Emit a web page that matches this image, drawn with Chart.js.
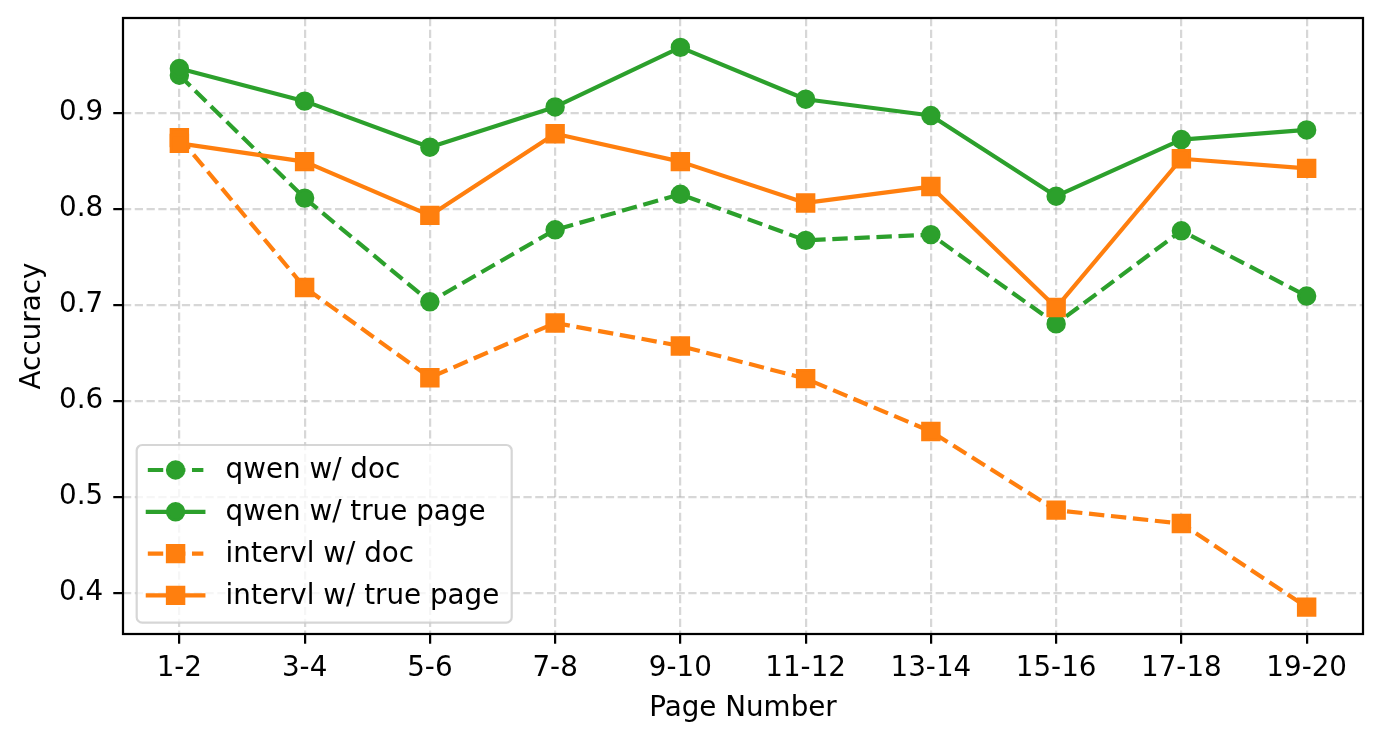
<!DOCTYPE html>
<html>
<head>
<meta charset="utf-8">
<script src="https://cdn.jsdelivr.net/npm/chart.js@4.4.0/dist/chart.umd.min.js"></script>
<style>
html,body{margin:0;padding:0;background:#fff;}
#wrap{width:1382px;height:742px;position:relative;}
canvas{display:block;}
</style>
</head>
<body>
<div id="wrap"><canvas id="c" width="1382" height="742"></canvas></div>
<script>
// ---- data ----
const categories = ['1-2','3-4','5-6','7-8','9-10','11-12','13-14','15-16','17-18','19-20'];
const qwenDoc     = [0.939,0.811,0.703,0.778,0.815,0.767,0.773,0.680,0.777,0.709];
const qwenTrue    = [0.946,0.912,0.864,0.906,0.968,0.914,0.897,0.813,0.872,0.882];
const intervlDoc  = [0.874,0.718,0.624,0.681,0.657,0.623,0.568,0.486,0.472,0.385];
const intervlTrue = [0.868,0.849,0.793,0.878,0.849,0.806,0.823,0.697,0.852,0.842];
const yTicks = [0.4,0.5,0.6,0.7,0.8,0.9];
const seriesNames = ['qwen w/ doc','qwen w/ true page','intervl w/ doc','intervl w/ true page'];
const xLabel = 'Page Number';
const yLabel = 'Accuracy';

// ---- style ----
const PT = 200/72;
const FONT = 'DejaVu Sans';
const FS = 10*PT;
const GREEN = '#2ca02c', ORANGE = '#ff7f0e';
const DASH = [3.7*1.5*PT, 1.6*1.5*PT];
const GRID_DASH = [3.7*0.8*PT, 1.6*0.8*PT];

function makeDs(label, values, color, dashed, marker, order){
  const r = marker === 'circle' ? 3*PT : 3*PT*Math.SQRT2;
  return {
    label,
    data: values.map((v,i)=>({x:i,y:v})),
    borderColor: color, backgroundColor: color,
    borderWidth: 1.5*PT,
    borderDash: dashed ? DASH : [],
    borderJoinStyle: 'round',
    borderCapStyle: 'butt',
    pointStyle: marker,
    pointRadius: r, pointHoverRadius: r,
    pointBorderWidth: PT, pointHoverBorderWidth: PT,
    pointBorderColor: color, pointBackgroundColor: color,
    tension: 0, fill: false, order,
    _dashed: dashed
  };
}

const datasets = [
  makeDs(seriesNames[0], qwenDoc, GREEN, true, 'circle', 4),
  makeDs(seriesNames[1], qwenTrue, GREEN, false, 'circle', 3),
  makeDs(seriesNames[2], intervlDoc, ORANGE, true, 'rect', 2),
  makeDs(seriesNames[3], intervlTrue, ORANGE, false, 'rect', 1)
];

const mplPlugin = {
  id: 'mpl',
  afterDatasetsDraw(chart){
    const {ctx, chartArea:a} = chart;
    ctx.save();
    ctx.strokeStyle = '#000';
    ctx.lineWidth = 0.8*PT;
    ctx.strokeRect(a.left, a.top, a.right-a.left, a.bottom-a.top);
    ctx.restore();
  },
  afterDraw(chart){
    const ctx = chart.ctx;
    const bx = 136.7, by = 445, bw = 375, bh = 177.7, rr = 5.5;
    ctx.save();
    ctx.beginPath();
    ctx.moveTo(bx+rr, by);
    ctx.arcTo(bx+bw, by, bx+bw, by+bh, rr);
    ctx.arcTo(bx+bw, by+bh, bx, by+bh, rr);
    ctx.arcTo(bx, by+bh, bx, by, rr);
    ctx.arcTo(bx, by, bx+bw, by, rr);
    ctx.closePath();
    ctx.fillStyle = 'rgba(255,255,255,0.8)';
    ctx.fill();
    ctx.lineWidth = 0.8*PT;
    ctx.strokeStyle = 'rgba(204,204,204,0.8)';
    ctx.stroke();
    const hx0 = bx + 0.4*FS, hx1 = hx0 + 2*FS, tx = hx1 + 0.8*FS;
    chart.data.datasets.forEach((d, i) => {
      const base = 478.3 + i*41.8;
      const cy = base - 8.3;
      ctx.save();
      ctx.strokeStyle = d.borderColor;
      ctx.lineWidth = d.borderWidth;
      ctx.setLineDash(d._dashed ? DASH : []);
      ctx.lineCap = d._dashed ? 'butt' : 'square';
      ctx.beginPath();
      ctx.moveTo(hx0, cy); ctx.lineTo(hx1, cy);
      ctx.stroke();
      ctx.setLineDash([]);
      const mx = (hx0+hx1)/2;
      ctx.fillStyle = d.pointBackgroundColor;
      ctx.strokeStyle = d.pointBorderColor;
      ctx.lineWidth = d.pointBorderWidth;
      ctx.beginPath();
      if (d.pointStyle === 'circle') {
        ctx.arc(mx, cy, 3*PT, 0, Math.PI*2);
      } else {
        ctx.rect(mx-3*PT, cy-3*PT, 6*PT, 6*PT);
      }
      ctx.fill(); ctx.stroke();
      ctx.restore();
      ctx.fillStyle = '#000';
      ctx.font = FS + 'px "' + FONT + '"';
      ctx.textBaseline = 'alphabetic';
      ctx.textAlign = 'left';
      ctx.fillText(d.label, tx, base);
    });
    ctx.restore();
  }
};

const gridOpts = {
  color: 'rgba(176,176,176,0.5)',
  lineWidth: 0.8*PT,
  tickLength: 3.5*PT,
  tickColor: '#000',
  tickWidth: 0.8*PT,
  tickBorderDash: [],
  borderDash: GRID_DASH,
  drawTicks: true
};
const borderOpts = { display: false, dash: GRID_DASH, width: 0.8*PT, color: '#000' };

new Chart(document.getElementById('c'), {
  type: 'line',
  data: { datasets },
  options: {
    responsive: false,
    animation: false,
    events: [],
    layout: { padding: { top: 18, right: 19, bottom: 0, left: 0 } },
    plugins: { legend: { display: false }, tooltip: { enabled: false } },
    scales: {
      x: {
        type: 'linear',
        min: -0.45, max: 9.45,
        afterBuildTicks: s => { s.ticks = categories.map((c,i)=>({value:i})); },
        ticks: {
          callback: v => categories[Math.round(v)],
          font: { family: FONT, size: FS },
          color: '#000',
          padding: 8.6,
          maxRotation: 0, minRotation: 0, autoSkip: false
        },
        grid: gridOpts,
        border: borderOpts,
        title: { display: true, text: xLabel, color: '#000', font: { family: FONT, size: FS }, padding: { top: 0, bottom: 16.3 } },
        afterFit: s => { s.height = 108; s.paddingLeft = 0; s.paddingRight = 0; }
      },
      y: {
        type: 'linear',
        min: 0.357, max: 0.9986,
        afterBuildTicks: s => { s.ticks = yTicks.map(v=>({value:v})); },
        ticks: {
          callback: v => Number(v).toFixed(1),
          font: { family: FONT, size: FS },
          color: '#000',
          padding: 10,
          labelOffset: 0
        },
        grid: gridOpts,
        border: borderOpts,
        title: { display: true, text: yLabel, color: '#000', font: { family: FONT, size: FS }, padding: { top: 16, bottom: 0 } },
        afterFit: s => { s.width = 123; s.paddingTop = 0; s.paddingBottom = 0; }
      }
    }
  },
  plugins: [mplPlugin]
});
</script>
</body>
</html>
